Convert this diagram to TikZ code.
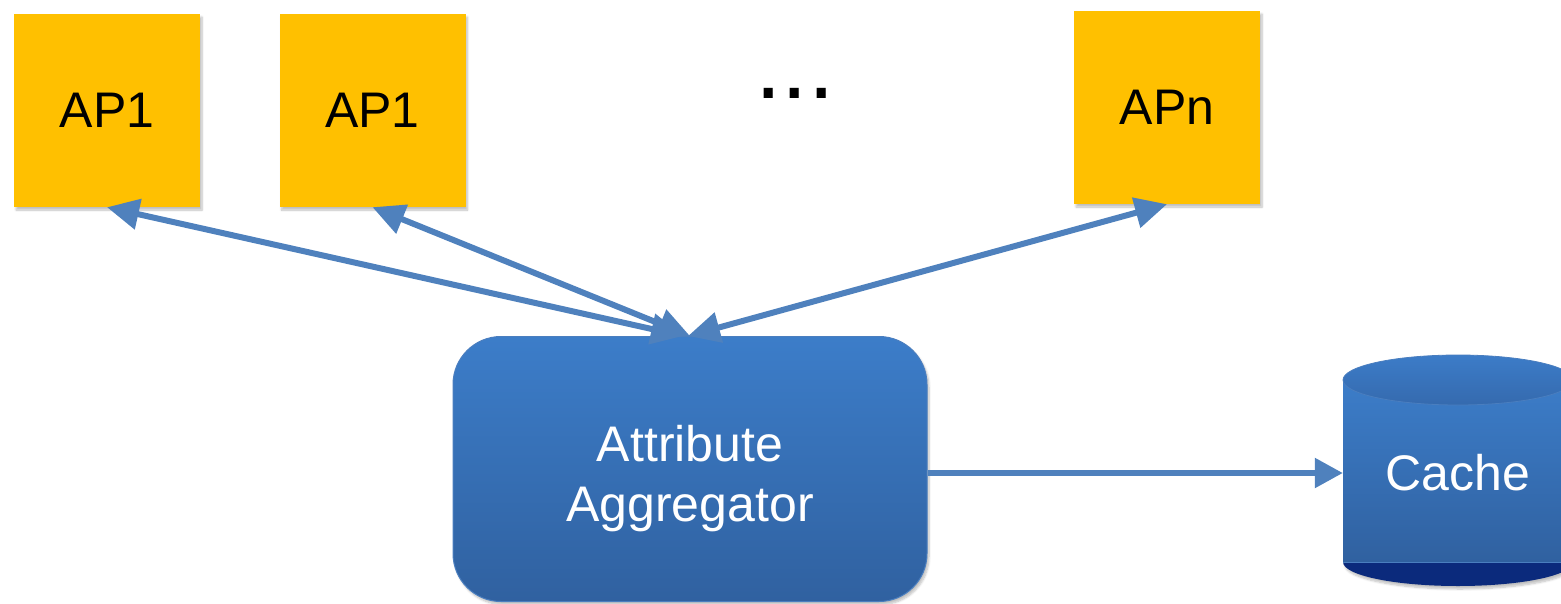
\documentclass[tikz,border=0pt]{standalone}
\usepackage{fontspec}
\setmainfont{Liberation Sans}
\usetikzlibrary{arrows.meta,shadows.blur,calc}

\definecolor{apyellow}{HTML}{FFC000}
\definecolor{linkblue}{HTML}{4F81BD}
\definecolor{boxtop}{HTML}{3C7DC9}
\definecolor{boxbottom}{HTML}{3061A0}
\definecolor{boxedge}{HTML}{4A7EBF}
\definecolor{captop}{HTML}{3C7CC8}
\definecolor{capbottom}{HTML}{356AAE}
\definecolor{cylbase}{HTML}{0B2A7C}

\tikzset{
  softshadow/.style={blur shadow={shadow xshift=2pt, shadow yshift=-3pt,
    shadow blur steps=6, shadow opacity=25}},
  apbox/.style={rectangle, fill=apyellow, minimum width=186pt, minimum height=193pt,
    inner sep=0pt, font=\fontsize{50}{60}\selectfont, text=black, softshadow},
  aggbox/.style={rectangle, rounded corners=48pt, top color=boxtop, bottom color=boxbottom,
    draw=boxedge, line width=1pt, minimum width=474pt, minimum height=265pt, softshadow},
  whitetext/.style={align=center, text=white, inner sep=0pt, font=\fontsize{50}{60}\selectfont},
  link/.style={draw=linkblue, line width=6pt,
    arrows={Triangle[length=32pt, width=30pt]-Triangle[length=32pt, width=30pt]}},
  flow/.style={draw=linkblue, line width=5.5pt, -{Triangle[length=28pt, width=29pt]}},
}

\begin{document}
\begin{tikzpicture}[x=1pt, y=-1pt]
  \path[use as bounding box] (0,0) rectangle (1561,603);
  \clip (0,0) rectangle (1561,603);

  % access points
  \node[apbox] (ap1) at (107,110.5) {AP1};
  \node[apbox] (ap2) at (372.5,110.5) {AP1};
  \node[apbox] (apn) at (1167,107.5) {APn};
  \node[anchor=base, font=\fontsize{95}{100}\selectfont] (dots) at (795,98) {...};

  % aggregator
  \node[aggbox] (agg) at (690,469) {};
  \node[whitetext] (aggtext) at (690,479) {Attribute\\Aggregator};

  % cache cylinder
  \fill[cylbase, softshadow] (1458,562) ellipse [x radius=115, y radius=24];
  \fill[top color=boxtop, bottom color=boxbottom] (1343,380) rectangle (1573,562);
  \draw[boxedge, line width=1pt] (1343,562) -- (1573,562);
  \draw[boxedge, line width=0.8pt, top color=captop, bottom color=capbottom]
    (1458,380) ellipse [x radius=115, y radius=25];
  \node[whitetext, minimum width=230pt, minimum height=182pt] (cache) at (1458,473) {Cache};

  % connectors
  \draw[link] ([xshift=-7pt]agg.north) -- (ap1.south);
  \draw[link] (agg.north) -- (ap2.south);
  \draw[link] ([xshift=-2pt]agg.north) -- (apn.south);
  \draw[flow] (agg.east |- cache.west) -- (cache.west);
\end{tikzpicture}
\end{document}
